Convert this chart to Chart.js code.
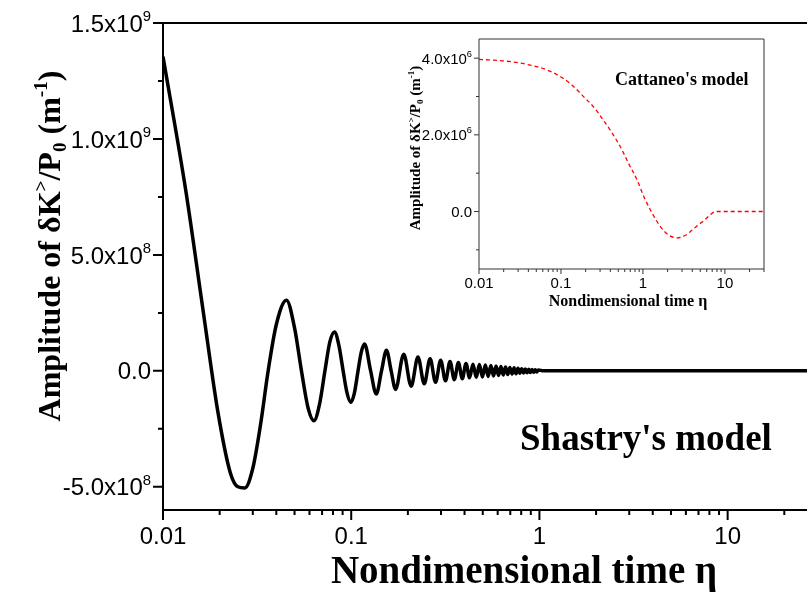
<!DOCTYPE html>
<html>
<head>
<meta charset="utf-8">
<script src="https://cdn.jsdelivr.net/npm/chart.js"></script>
<style>
  html, body { margin: 0; padding: 0; background: #fff; overflow: hidden; }
  #wrap { position: relative; width: 807px; height: 594px; }
  #main { position: absolute; left: 0; top: 0; }
  #inset { position: absolute; left: 390px; top: 30px; }
</style>
</head>
<body>
<div id="wrap">
  <canvas id="main" width="807" height="594"></canvas>
  <canvas id="inset" width="390" height="290"></canvas>
</div>
<script>
// Shastry's model (main curve)
const shastryEta = [
  0.0100, 0.0132, 0.0164, 0.0196, 0.0228, 0.0250, 0.0272, 0.0300, 0.0330, 0.0362,
  0.0400, 0.0453, 0.0500, 0.0544, 0.0590, 0.0634, 0.0680, 0.0725, 0.0770, 0.0815,
  0.0860, 0.0906, 0.0950, 0.0996, 0.1040, 0.1087, 0.1130, 0.1177, 0.1268, 0.1358,
  0.1449, 0.1539, 0.1630, 0.1720, 0.1901, 0.2082, 0.2263, 0.2444, 0.2625, 0.2806,
  0.2987, 0.3168, 0.3349, 0.3530, 0.3711, 0.3892, 0.4073, 0.4254, 0.4435, 0.4616,
  0.4797, 0.4978, 0.5159, 0.5340, 0.5521, 0.5702, 0.5883, 0.6064, 0.6245, 0.6426,
  0.6607, 0.6788, 0.6969, 0.7150, 0.7331, 0.7512, 0.7693, 0.7874, 0.8055, 0.8236,
  0.8417, 0.8598, 0.8779, 0.8960, 0.9141, 0.9322, 0.9503, 0.9684, 0.9865, 1.05,
  3.0, 30
];
const shastryAmp = [
  13.55e8, 7.8e8, 2.5e8, -1.8e8, -4.4e8, -5.0e8, -5.05e8, -4.2e8, -2.3e8, 0,
  2.0e8, 3.05e8, 1.85e8, 0, -1.6e8, -2.15e8, -1.4e8, 0, 1.25e8, 1.68e8,
  1.1e8, 0, -0.95e8, -1.36e8, -0.95e8, 0, 0.8e8, 1.16e8, 0, -1.0e8,
  0, 0.89e8, 0, -0.80e8, 0.72e8, -0.66e8, 0.60e8, -0.56e8, 0.52e8, -0.49e8,
  0.46e8, -0.43e8, 0.40e8, -0.38e8, 0.36e8, -0.34e8, 0.32e8, -0.30e8, 0.29e8, -0.28e8,
  0.27e8, -0.26e8, 0.25e8, -0.24e8, 0.23e8, -0.22e8, 0.21e8, -0.20e8, 0.19e8, -0.18e8,
  0.17e8, -0.16e8, 0.15e8, -0.14e8, 0.13e8, -0.12e8, 0.11e8, -0.10e8, 0.09e8, -0.09e8,
  0.08e8, -0.08e8, 0.07e8, -0.07e8, 0.06e8, -0.06e8, 0.05e8, -0.05e8, 0.04e8, 0,
  0, 0
];

// Cattaneo's model (inset curve)
const cattaneoEta = [0.01, 0.022, 0.042, 0.068, 0.1, 0.136, 0.19, 0.25, 0.33, 0.40,
  0.53, 0.67, 0.85, 1.03, 1.3, 1.64, 2.08, 2.63, 3.3, 4.2, 5.6, 7.8, 10.7, 30];
const cattaneoAmp = [3.97e6, 3.92e6, 3.82e6, 3.69e6, 3.51e6, 3.3e6, 2.99e6, 2.73e6, 2.38e6, 2.12e6,
  1.69e6, 1.25e6, 0.82e6, 0.38e6, -0.05e6, -0.4e6, -0.62e6, -0.69e6, -0.62e6, -0.44e6,
  -0.23e6, 0, 0, 0];

// ticks
const mainYTicks = [1.5e9, 1.0e9, 5e8, 0, -5e8];
const mainYMinor = [1.25e9, 7.5e8, 2.5e8, -2.5e8];
const insetYTicks = [4e6, 2e6, 0];
const insetYMinor = [3e6, 1e6, -1e6];
const etaTicks = [0.01, 0.1, 1, 10];
const etaTickLabels = ['0.01', '0.1', '1', '10'];

const SANS = '"Liberation Sans", Arial, sans-serif';
const SERIF = '"Liberation Serif", "Times New Roman", serif';
const sans = s => `${s}px ${SANS}`;
const serif = s => `bold ${s}px ${SERIF}`;

function sciParts(v) {
  if (v === 0) return ['0.0', ''];
  const e = Math.floor(Math.log10(Math.abs(v)) + 1e-9);
  return [(v / Math.pow(10, e)).toFixed(1) + 'x10', String(e)];
}

function runWidth(ctx, runs) {
  let w = 0;
  runs.forEach(r => { ctx.font = r.font; w += ctx.measureText(r.t).width; });
  return w;
}

function drawRun(ctx, runs, x, y) {
  runs.forEach(r => {
    ctx.font = r.font;
    ctx.fillText(r.t, x, y + (r.dy || 0));
    x += ctx.measureText(r.t).width;
  });
}

// y axis title with super/subscripts
function ampTitle(s) {
  return [
    { t: 'Amplitude of δK', font: serif(s) },
    { t: '>', font: serif(s * 0.6), dy: -s * 0.42 },
    { t: '/P', font: serif(s) },
    { t: '0', font: serif(s * 0.6), dy: s * 0.2 },
    { t: ' (m', font: serif(s) },
    { t: '-1', font: serif(s * 0.6), dy: -s * 0.42 },
    { t: ')', font: serif(s) }
  ];
}

// axes, ticks, tick labels and titles
const axisFrame = {
  id: 'axisFrame',
  afterDatasetsDraw(chart, args, o) {
    const ctx = chart.ctx, a = chart.chartArea;
    const xs = chart.scales.x, ys = chart.scales.y;
    ctx.save();
    ctx.strokeStyle = o.color;
    ctx.lineWidth = o.lineWidth;
    ctx.beginPath();
    ctx.moveTo(a.left, a.top); ctx.lineTo(a.left, a.bottom); ctx.lineTo(a.right, a.bottom);
    if (o.box) ctx.lineTo(a.right, a.top);
    ctx.moveTo(a.left, a.top); ctx.lineTo(a.right, a.top);
    ctx.stroke();

    ctx.beginPath();
    o.yMajor.forEach(v => {
      const p = ys.getPixelForValue(v);
      ctx.moveTo(a.left - o.major, p); ctx.lineTo(a.left, p);
    });
    o.yMinor.forEach(v => {
      const p = ys.getPixelForValue(v);
      ctx.moveTo(a.left - o.minor, p); ctx.lineTo(a.left, p);
    });
    const lo = Math.floor(Math.log10(xs.min)), hi = Math.ceil(Math.log10(xs.max));
    for (let d = lo; d <= hi; d++) {
      for (let m = 1; m < 10; m++) {
        const v = m * Math.pow(10, d);
        if (v < xs.min * 0.999 || v > xs.max) continue;
        const p = xs.getPixelForValue(v);
        ctx.moveTo(p, a.bottom); ctx.lineTo(p, a.bottom + (m === 1 ? o.major : o.minor));
      }
    }
    ctx.stroke();

    ctx.fillStyle = '#000';
    ctx.textBaseline = 'alphabetic';
    o.yMajor.forEach(v => {
      const [m, e] = sciParts(v);
      const runs = [{ t: m, font: sans(o.fs) }];
      if (e) runs.push({ t: e, font: sans(o.fs * 0.62), dy: -o.fs * 0.45 });
      const w = runWidth(ctx, runs);
      drawRun(ctx, runs, o.yLabelRight - w, ys.getPixelForValue(v) + o.fs * 0.36);
    });
    ctx.textAlign = 'center';
    ctx.font = sans(o.fs);
    o.xMajor.forEach((v, i) => {
      ctx.fillText(o.xLabels[i], xs.getPixelForValue(v), o.xLabelBase);
    });
    ctx.textAlign = 'left';

    o.texts.forEach(t => {
      const w = runWidth(ctx, t.runs);
      ctx.save();
      ctx.translate(t.x, t.y);
      if (t.rot) ctx.rotate(-Math.PI / 2);
      drawRun(ctx, t.runs, t.align === 'left' ? 0 : -w / 2, 0);
      ctx.restore();
    });
    ctx.restore();
  }
};

function toPoints(xs, ys) {
  return xs.map((x, i) => ({ x: x, y: ys[i] }));
}

new Chart(document.getElementById('main'), {
  type: 'line',
  data: {
    datasets: [{
      data: toPoints(shastryEta, shastryAmp),
      borderColor: '#000',
      borderWidth: 3.5,
      pointRadius: 0,
      cubicInterpolationMode: 'monotone',
      fill: false
    }]
  },
  options: {
    responsive: false,
    animation: false,
    devicePixelRatio: 1,
    layout: { padding: { top: 23, right: 0, left: 0, bottom: 0 } },
    plugins: {
      legend: { display: false },
      tooltip: { enabled: false },
      axisFrame: {
        color: '#000', lineWidth: 2, box: false, major: 10, minor: 5, fs: 24,
        yMajor: mainYTicks, yMinor: mainYMinor, yLabelRight: 151,
        xMajor: etaTicks, xLabels: etaTickLabels, xLabelBase: 544,
        texts: [
          { runs: [{ t: 'Nondimensional time η', font: serif(39) }], x: 524, y: 583 },
          { runs: [{ t: "Shastry's model", font: serif(37) }], x: 520, y: 450, align: 'left' },
          { runs: ampTitle(32), x: 60, y: 246, rot: true }
        ]
      }
    },
    scales: {
      x: {
        type: 'logarithmic', min: 0.01, max: 26.4,
        grid: { display: false }, border: { display: false }, ticks: { display: false },
        afterFit: s => { s.height = 594 - 510; }
      },
      y: {
        type: 'linear', min: -6e8, max: 1.5e9,
        grid: { display: false }, border: { display: false }, ticks: { display: false },
        afterFit: s => { s.width = 163; }
      }
    }
  },
  plugins: [axisFrame]
});

new Chart(document.getElementById('inset'), {
  type: 'line',
  data: {
    datasets: [{
      data: toPoints(cattaneoEta, cattaneoAmp),
      borderColor: '#ff0000',
      borderWidth: 1.3,
      borderDash: [4, 3],
      pointRadius: 0,
      cubicInterpolationMode: 'monotone',
      fill: false
    }]
  },
  options: {
    responsive: false,
    animation: false,
    devicePixelRatio: 1,
    layout: { padding: { top: 9, right: 16, left: 0, bottom: 0 } },
    plugins: {
      legend: { display: false },
      tooltip: { enabled: false },
      axisFrame: {
        color: '#333', lineWidth: 1, box: true, major: 5, minor: 3, fs: 15,
        yMajor: insetYTicks, yMinor: insetYMinor, yLabelRight: 82,
        xMajor: etaTicks, xLabels: etaTickLabels, xLabelBase: 258,
        texts: [
          { runs: [{ t: 'Nondimensional time η', font: serif(16) }], x: 238, y: 276 },
          { runs: [{ t: "Cattaneo's model", font: serif(18) }], x: 225, y: 55, align: 'left' },
          { runs: ampTitle(15), x: 30, y: 118, rot: true }
        ]
      }
    },
    scales: {
      x: {
        type: 'logarithmic', min: 0.01, max: 30,
        grid: { display: false }, border: { display: false }, ticks: { display: false },
        afterFit: s => { s.height = 290 - 239; }
      },
      y: {
        type: 'linear', min: -1.5e6, max: 4.5e6,
        grid: { display: false }, border: { display: false }, ticks: { display: false },
        afterFit: s => { s.width = 89; }
      }
    }
  },
  plugins: [axisFrame]
});
</script>
</body>
</html>
